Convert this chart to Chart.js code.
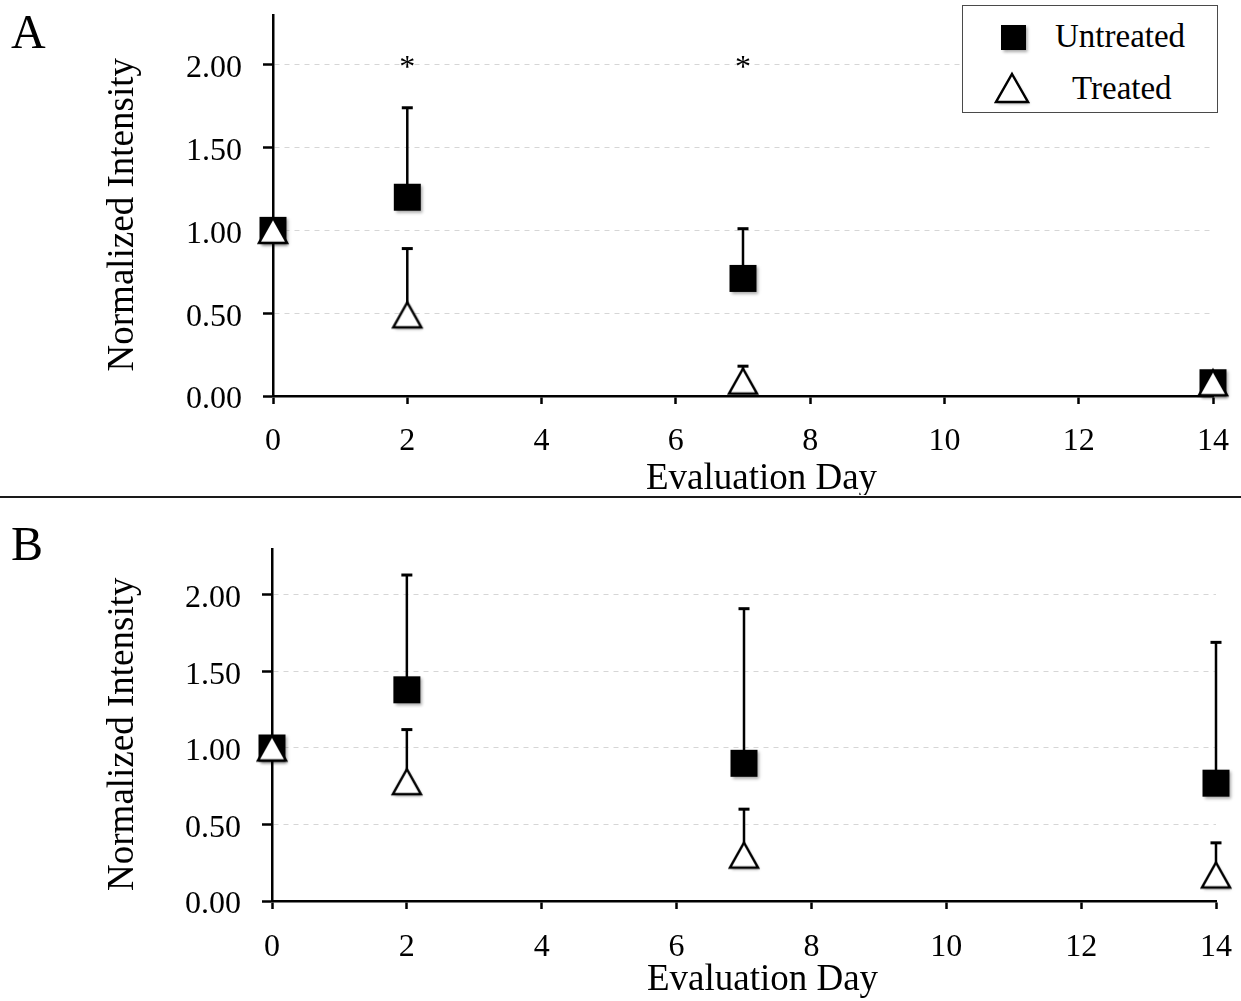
<!DOCTYPE html>
<html>
<head>
<meta charset="utf-8">
<script src="https://cdn.jsdelivr.net/npm/chart.js@4/dist/chart.umd.min.js"></script>
<style>
  html, body { margin: 0; padding: 0; background: #fff; }
  body { width: 1241px; height: 1001px; position: relative; overflow: hidden; font-family: "Liberation Serif", "Times New Roman", serif; color: #000; }
  .panel { position: absolute; left: 0; width: 1241px; }
  .letter { position: absolute; left: 11px; font-size: 48px; line-height: 1; }
  .divider { position: absolute; left: 0; top: 496px; width: 1241px; height: 2px; background: #1a1a1a; }
  .legend { position: absolute; left: 962px; top: 5px; width: 254px; height: 106px; border: 1.5px solid #4a4a4a; background: #fff; }
  .legend canvas { position: absolute; }
  .legend span { position: absolute; font-size: 33px; line-height: 1; }
</style>
</head>
<body>
<div class="panel" style="top:0;height:495px"><canvas id="chartA" width="1241" height="495"></canvas></div>
<div class="panel" style="top:500px;height:501px"><canvas id="chartB" width="1241" height="501"></canvas></div>
<div class="letter" style="top:8px">A</div>
<div class="letter" style="top:520px">B</div>
<div class="divider"></div>
<div class="legend" id="legend">
  <span style="left:92px;top:14px">Untreated</span>
  <span style="left:109px;top:66px">Treated</span>
</div>
<script>
const $ = (id) => document.getElementById(id);
const FONT = "'Liberation Serif', 'Times New Roman', serif";

// evaluation days
const days = [0, 2, 7, 14];

// panel A: mean and upper error (SD)
const untreatedA = [1.00, 1.20, 0.71, 0.08];
const untreatedErrA = [0, 0.54, 0.30, 0];
const treatedA = [1.00, 0.49, 0.09, 0.08];
const treatedErrA = [0, 0.40, 0.09, 0];
const starDaysA = [2, 7];
const starLevel = 2.0;

// panel B
const untreatedB = [1.00, 1.38, 0.90, 0.77];
const untreatedErrB = [0, 0.75, 1.01, 0.92];
const treatedB = [1.00, 0.78, 0.30, 0.17];
const treatedErrB = [0, 0.34, 0.30, 0.21];

function squareMarker(size) {
  const c = document.createElement("canvas");
  c.width = size + 10; c.height = size + 10;
  const ctx = c.getContext("2d");
  ctx.shadowColor = "rgba(0,0,0,0.35)";
  ctx.shadowBlur = 3;
  ctx.shadowOffsetX = 1.5;
  ctx.shadowOffsetY = 2;
  ctx.fillStyle = "#000";
  ctx.fillRect((c.width - size) / 2, (c.height - size) / 2, size, size);
  return c;
}

function triangleMarker(w, h) {
  const c = document.createElement("canvas");
  c.width = w + 12; c.height = h + 12;
  const ctx = c.getContext("2d");
  const cx = c.width / 2, cy = c.height / 2;
  ctx.beginPath();
  ctx.moveTo(cx, cy - h / 2);
  ctx.lineTo(cx + w / 2, cy + h / 2);
  ctx.lineTo(cx - w / 2, cy + h / 2);
  ctx.closePath();
  ctx.shadowColor = "rgba(0,0,0,0.35)";
  ctx.shadowBlur = 3;
  ctx.shadowOffsetX = 1.5;
  ctx.shadowOffsetY = 2;
  ctx.fillStyle = "#fff";
  ctx.fill();
  ctx.shadowColor = "rgba(0,0,0,0)";
  ctx.lineWidth = 2.5;
  ctx.lineJoin = "miter";
  ctx.strokeStyle = "#000";
  ctx.stroke();
  return c;
}

const sq = squareMarker(27);
const tri = triangleMarker(28, 25);

// legend markers
const legSq = squareMarker(25);
legSq.style.left = (50 - legSq.width / 2) + "px";
legSq.style.top = (31 - legSq.height / 2) + "px";
$("legend").appendChild(legSq);
const legTri = triangleMarker(32, 28);
legTri.style.left = (49 - legTri.width / 2) + "px";
legTri.style.top = (82 - legTri.height / 2) + "px";
$("legend").appendChild(legTri);

function points(means) {
  return days.map((d, i) => ({ x: d, y: means[i] }));
}

function stems(means, errs) {
  const out = [];
  days.forEach((d, i) => {
    if (errs[i] > 0) {
      out.push({ x: d, y: means[i] }, { x: d, y: means[i] + errs[i] }, { x: d, y: null });
    }
  });
  return out;
}

function caps(means, errs) {
  const out = [];
  days.forEach((d, i) => {
    if (errs[i] > 0) out.push({ x: d, y: means[i] + errs[i] });
  });
  return out;
}

const starPlugin = {
  id: "stars",
  afterDatasetsDraw(chart, args, opts) {
    if (!opts.days || !opts.days.length) return;
    const { ctx, scales } = chart;
    ctx.save();
    ctx.font = "32px " + FONT;
    ctx.fillStyle = "#000";
    ctx.textAlign = "center";
    ctx.textBaseline = "alphabetic";
    opts.days.forEach((d) => {
      ctx.fillText("*", scales.x.getPixelForValue(d), scales.y.getPixelForValue(opts.level) + 12);
    });
    ctx.restore();
  }
};

function makeChart(id, cfg) {
  return new Chart($(id).getContext("2d"), {
    type: "scatter",
    data: {
      datasets: [
        {
          label: "Treated",
          data: points(cfg.treated),
          pointStyle: tri,
          pointRadius: 14,
          clip: false,
          order: 1
        },
        {
          label: "Untreated",
          data: points(cfg.untreated),
          pointStyle: sq,
          pointRadius: 14,
          clip: false,
          order: 2
        },
        {
          label: "caps",
          data: caps(cfg.untreated, cfg.untreatedErr).concat(caps(cfg.treated, cfg.treatedErr)),
          pointStyle: "line",
          pointRadius: 5.5,
          borderColor: "#000",
          backgroundColor: "#000",
          pointBorderWidth: 3,
          clip: false,
          order: 3
        },
        {
          type: "line",
          label: "stems",
          data: stems(cfg.untreated, cfg.untreatedErr).concat(stems(cfg.treated, cfg.treatedErr)),
          borderColor: "#000",
          borderWidth: 2.5,
          pointRadius: 0,
          spanGaps: false,
          clip: false,
          order: 4
        }
      ]
    },
    options: {
      responsive: false,
      animation: false,
      events: [],
      layout: { padding: { top: cfg.padTop, left: 0, right: cfg.padRight, bottom: 0 } },
      plugins: {
        legend: { display: false },
        tooltip: { enabled: false },
        stars: { days: cfg.stars, level: starLevel }
      },
      scales: {
        x: {
          type: "linear",
          min: 0,
          max: 14,
          afterFit: (s) => {
            s.height = cfg.xHeight;
            s.paddingLeft = 0;
            s.paddingRight = 0;
          },
          border: { display: true, color: "#000", width: 2.5 },
          grid: { display: true, drawOnChartArea: false, drawTicks: true, tickLength: 8, tickColor: "#000", tickWidth: 2.5, color: "#000" },
          ticks: {
            stepSize: 2,
            padding: cfg.xTickPad,
            color: "#000",
            font: { family: FONT, size: 32 },
            callback: (v) => String(v)
          },
          title: {
            display: true,
            text: "    Evaluation Day",
            color: "#000",
            font: { family: FONT, size: 37, lineHeight: 0.75 },
            padding: { top: 0, bottom: cfg.titlePad }
          }
        },
        y: {
          type: "linear",
          min: 0,
          max: 2.3,
          afterFit: (s) => {
            s.width = cfg.yWidth;
            s.paddingTop = 0;
            s.paddingBottom = 0;
          },
          border: { display: true, color: "#000", width: 2.5, dash: [5, 5] },
          grid: {
            color: (c) => (c.tick && c.tick.value === 0 ? "rgba(0,0,0,0)" : "#d6d6d6"),
            lineWidth: 1,
            drawTicks: true,
            tickLength: 10,
            tickColor: "#000",
            tickWidth: 2.5,
            tickBorderDash: []
          },
          ticks: {
            stepSize: 0.5,
            includeBounds: false,
            padding: 21,
            labelOffset: 4,
            color: "#000",
            font: { family: FONT, size: 32 },
            callback: (v) => v.toFixed(2)
          },
          title: {
            display: true,
            text: "Normalized Intensity  ",
            color: "#000",
            font: { family: FONT, size: 37, lineHeight: 1 },
            padding: { top: 105, bottom: 0 }
          }
        }
      }
    },
    plugins: [starPlugin]
  });
}

makeChart("chartA", {
  untreated: untreatedA, untreatedErr: untreatedErrA,
  treated: treatedA, treatedErr: treatedErrA,
  stars: starDaysA,
  padTop: 11, padRight: 28, xHeight: 99, yWidth: 273, titlePad: 2, xTickPad: 18
});

makeChart("chartB", {
  untreated: untreatedB, untreatedErr: untreatedErrB,
  treated: treatedB, treatedErr: treatedErrB,
  stars: [],
  padTop: 49, padRight: 25, xHeight: 100, yWidth: 272, titlePad: 7, xTickPad: 19
});
</script>
</body>
</html>
